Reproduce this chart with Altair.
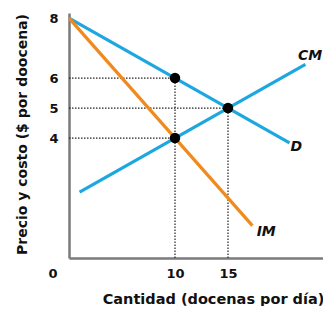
import altair as alt
import pandas as pd

# Curves (Q in dozens/day, P in $)
d_q = [0, 20.8]
d_p = [8, 3.84]
im_q = [0, 17.3]
im_p = [8, 1.08]
cm_q = [1.0, 22.3]
cm_p = [2.2, 6.46]

# Key points
pt_q = [10, 15, 10]
pt_p = [6, 5, 4]

# Curve labels
lab_text = ["CM", "D", "IM"]
lab_q = [21.6, 20.9, 17.7]
lab_p = [6.75, 3.7, 0.87]

y_ticks = [4, 5, 6, 8]
x_ticks = [10, 15]

BLUE = "#1ca7e0"
ORANGE = "#f08a1c"
FONT = "DejaVu Sans"

xs = alt.Scale(domain=[0, 23.96], nice=False, zero=False)
ys = alt.Scale(domain=[0, 8.17], nice=False, zero=False)

x_axis = alt.Axis(
    values=x_ticks, title="Cantidad (docenas por día)", grid=False, ticks=False,
    domainColor="#7a7a7a", domainWidth=2.5, labelFont=FONT, labelFontSize=13,
    labelFontWeight="bold", labelColor="#111", labelPadding=9,
    titleFont=FONT, titleFontSize=14.5, titleFontWeight="bold", titleColor="#111",
    titleX=144, titleY=41, titleAlign="center", titleBaseline="middle")
y_axis = alt.Axis(
    values=y_ticks, title="Precio y costo ($ por doocena)", grid=False, ticks=False,
    domainColor="#7a7a7a", domainWidth=2.5, labelFont=FONT, labelFontSize=13,
    labelFontWeight="bold", labelColor="#111", labelPadding=11,
    titleFont=FONT, titleFontSize=14, titleFontWeight="bold", titleColor="#111",
    titleX=-47, titleY=121, titleAlign="center", titleBaseline="middle", titleAngle=-90)


def X(field):
    return alt.X(field, type="quantitative", scale=xs, axis=x_axis)


def Y(field):
    return alt.Y(field, type="quantitative", scale=ys, axis=y_axis)


lines = pd.DataFrame({
    "q": d_q + im_q + cm_q,
    "p": d_p + im_p + cm_p,
    "curve": ["D"] * 2 + ["IM"] * 2 + ["CM"] * 2,
})

hrules = pd.DataFrame({"q": [0] * 3, "q1": pt_q, "p": pt_p})
vrules = pd.DataFrame({"q": [10, 15], "p": [0, 0], "p1": [6, 5]})
pts = pd.DataFrame({"q": pt_q, "p": pt_p})
labs = pd.DataFrame({"t": lab_text, "q": lab_q, "p": lab_p})
zero = pd.DataFrame({"t": ["0"], "q": [0], "p": [0]})

ln = alt.Chart(lines).mark_line(strokeWidth=3.2).encode(
    x=X("q"), y=Y("p"),
    color=alt.Color("curve:N", scale=alt.Scale(domain=["D", "IM", "CM"], range=[BLUE, ORANGE, BLUE]), legend=None))

hr = alt.Chart(hrules).mark_rule(color="#222", strokeDash=[1.5, 1.5], strokeWidth=1.2).encode(
    x=X("q"), x2="q1:Q", y=Y("p"))
vr = alt.Chart(vrules).mark_rule(color="#222", strokeDash=[1.5, 1.5], strokeWidth=1.2).encode(
    x=X("q"), y=Y("p"), y2="p1:Q")

pt = alt.Chart(pts).mark_circle(size=110, color="black", opacity=1).encode(
    x=X("q"), y=Y("p"))

lb = alt.Chart(labs).mark_text(font=FONT, fontSize=14, fontWeight="bold", fontStyle="italic",
                               color="#111", align="left", baseline="middle").encode(
    x=X("q"), y=Y("p"), text="t:N")

zt = alt.Chart(zero).mark_text(font=FONT, fontSize=13, fontWeight="bold", color="#111",
                               dx=-16, dy=16).encode(
    x=X("q"), y=Y("p"), text="t:N")

chart = alt.layer(hr, vr, ln, pt, lb, zt).properties(
    width=254, height=245,
    background="white",
    autosize=alt.AutoSizeParams(type="none"),
    padding={"left": 61, "top": 5, "right": 0, "bottom": 48},
).configure_view(stroke=None)

chart.save("out.html", embed_options={"renderer": "svg", "actions": False})
